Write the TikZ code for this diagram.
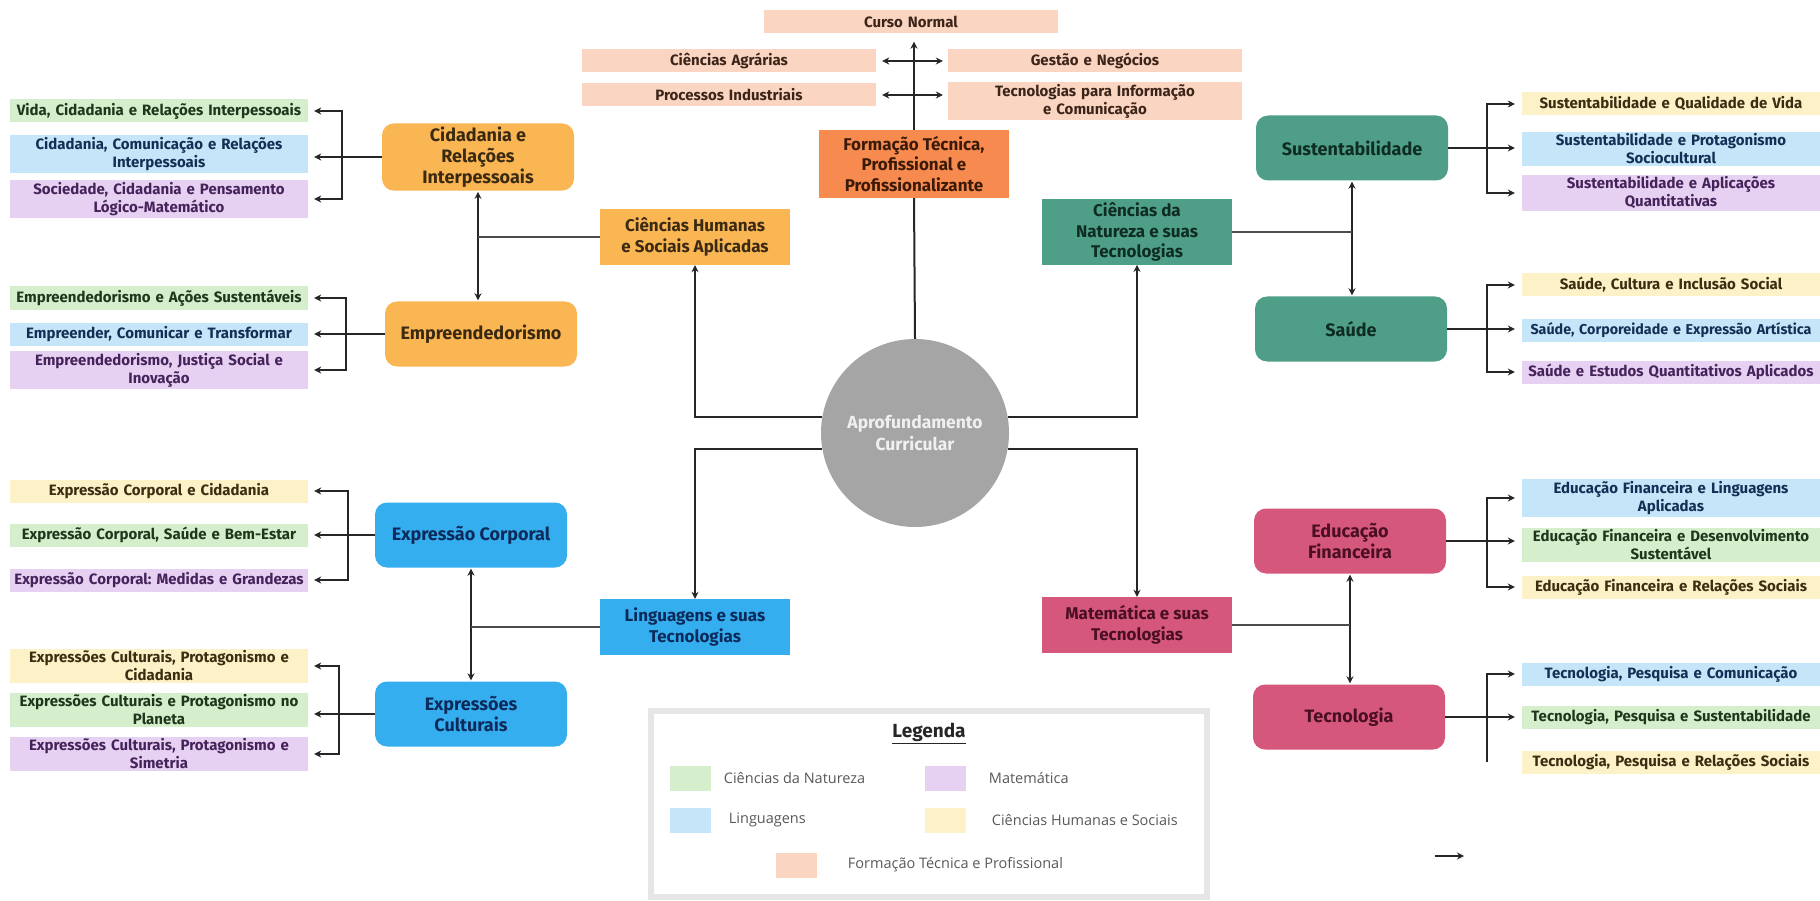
\documentclass[tikz,border=0pt]{standalone}
\usepackage{fontspec}
\setmainfont{Fira Sans}
\newfontfamily\legfont{Open Sans}
\usetikzlibrary{positioning,arrows.meta}
\frenchspacing

\definecolor{cPeach}{HTML}{FAD5C2}
\definecolor{cGreen}{HTML}{D5EECC}
\definecolor{cBlue}{HTML}{C5E5F8}
\definecolor{cPurple}{HTML}{E7D1F3}
\definecolor{cYellow}{HTML}{FDF1C8}
\definecolor{cForm}{HTML}{F78B4F}
\definecolor{cHum}{HTML}{FBB654}
\definecolor{cNat}{HTML}{4F9F88}
\definecolor{cLing}{HTML}{35AEF0}
\definecolor{cMat}{HTML}{D5587C}
\definecolor{cCirc}{HTML}{A5A5A5}
\definecolor{cLeg}{HTML}{E6E6E6}
\definecolor{tPeach}{HTML}{3B2418}
\definecolor{tGreen}{HTML}{1F361B}
\definecolor{tBlue}{HTML}{142F55}
\definecolor{tPurple}{HTML}{45235A}
\definecolor{tYellow}{HTML}{3A2E12}
\definecolor{tHum}{HTML}{3A2A12}
\definecolor{tForm}{HTML}{3C1A08}
\definecolor{tNat}{HTML}{0F2C24}
\definecolor{tLing}{HTML}{0C2B5A}
\definecolor{tMat}{HTML}{4B0F24}

\begin{document}
\begin{tikzpicture}[x=1pt,y=-1pt,
  >={Stealth[length=7pt,width=7pt]},
  leaf/.style={rectangle, inner xsep=4pt, inner ysep=2pt, text width=290pt, align=center, minimum height=23pt, font={\bfseries\fontsize{15}{18}\selectfont}},
  lfPeach/.style={leaf, fill=cPeach, text=tPeach},
  lfGreen/.style={leaf, fill=cGreen, text=tGreen},
  lfBlue/.style={leaf, fill=cBlue, text=tBlue},
  lfPurple/.style={leaf, fill=cPurple, text=tPurple},
  lfYellow/.style={leaf, fill=cYellow, text=tYellow},
  area/.style={rectangle, minimum width=190pt, minimum height=56pt, align=center, font={\bfseries\fontsize{17}{20.5}\selectfont}},
  group/.style={rectangle, rounded corners=12pt, minimum width=192pt, minimum height=65pt, align=center, font={\bfseries\fontsize{18}{21}\selectfont}},
  brk/.style={line width=2.6pt, black!85},
  lnk/.style={line width=2pt, black!85},
  thn/.style={line width=1.4pt, black!70},
  legbox/.style={rectangle, draw=cLeg, line width=6pt, minimum width=556pt, minimum height=186pt},
  swatch/.style={rectangle, inner sep=0pt, minimum width=41pt, minimum height=25pt},
  legtxt/.style={inner sep=0pt, text=black!65, font={\legfont\fontsize{14.5}{17}\selectfont}}]
\begin{scope}
\path[use as bounding box, fill=white] (0,0) rectangle (1820,901);

\node[lfPeach, text width=286pt] (curso) at (911,22) {Curso Normal};
\node[lfPeach, text width=286pt] (agr) at (729,61) {Ciências Agrárias};
\node[lfPeach, text width=286pt] (ges) at (1095,61) {Gestão e Negócios};
\node[lfPeach, text width=286pt] (proc) at (729,95) {Processos Industriais};
\node[lfPeach, text width=286pt] (tic) at (1095,101) {Tecnologias para Informação\\e Comunicação};

\node[area, fill=cForm, text=tForm, minimum height=68pt] (form) at (914,164) {Formação Técnica,\\Profissional e\\Profissionalizante};
\node[area, fill=cHum, text=tHum] (hum) at (695,237) {Ciências Humanas\\e Sociais Aplicadas};
\node[area, fill=cNat, text=tNat, minimum height=64pt] (nat) at (1137,232) {Ciências da\\Natureza e suas\\Tecnologias};
\node[area, fill=cLing, text=tLing] (ling) at (695,627) {Linguagens e suas\\Tecnologias};
\node[area, fill=cMat, text=tMat] (mat) at (1137,625) {Matemática e suas\\Tecnologias};
\node[circle, fill=cCirc, text=white!94!black, minimum size=188pt, align=center, font={\bfseries\fontsize{17.5}{21.5}\selectfont}] (circ) at (915,433) {Aprofundamento\\Curricular};

\node[group, fill=cHum, text=tHum] (cid) at (478,157) {Cidadania e\\Relações\\Interpessoais};
\node[group, fill=cHum, text=tHum] (emp) at (481,334) {Empreendedorismo};
\node[group, fill=cLing, text=tLing] (expc) at (471,535) {Expressão Corporal};
\node[group, fill=cLing, text=tLing] (expcu) at (471,714) {Expressões\\Culturais};
\node[group, fill=cNat, text=tNat] (sus) at (1352,148) {Sustentabilidade};
\node[group, fill=cNat, text=tNat] (sau) at (1351,329) {Saúde};
\node[group, fill=cMat, text=tMat] (edf) at (1350,541) {Educação\\Financeira};
\node[group, fill=cMat, text=tMat] (tec) at (1349,717) {Tecnologia};

\node[lfGreen] (vida) at (159,111) {Vida, Cidadania e Relações Interpessoais};
\node[lfBlue] (ccri) at (159,154) {Cidadania, Comunicação e Relações\\Interpessoais};
\node[lfPurple] (soc) at (159,199) {Sociedade, Cidadania e Pensamento\\Lógico-Matemático};
\node[lfGreen] (eas) at (159,298) {Empreendedorismo e Ações Sustentáveis};
\node[lfBlue] (ect) at (159,334) {Empreender, Comunicar e Transformar};
\node[lfPurple] (ejs) at (159,370) {Empreendedorismo, Justiça Social e\\Inovação};
\node[lfYellow] (ecc) at (159,491) {Expressão Corporal e Cidadania};
\node[lfGreen] (ecs) at (159,535) {Expressão Corporal, Saúde e Bem-Estar};
\node[lfPurple] (ecm) at (159,580) {Expressão Corporal: Medidas e Grandezas};
\node[lfYellow] (epc) at (159,666) {Expressões Culturais, Protagonismo e\\Cidadania};
\node[lfGreen] (epp) at (159,710) {Expressões Culturais e Protagonismo no\\Planeta};
\node[lfPurple] (eps) at (159,754) {Expressões Culturais, Protagonismo e\\Simetria};

\node[lfYellow] (sqv) at (1671,104) {Sustentabilidade e Qualidade de Vida};
\node[lfBlue] (sps) at (1671,149) {Sustentabilidade e Protagonismo\\Sociocultural};
\node[lfPurple] (saq) at (1671,193) {Sustentabilidade e Aplicações\\Quantitativas};
\node[lfYellow] (sci) at (1671,285) {Saúde, Cultura e Inclusão Social};
\node[lfBlue, font={\bfseries\fontsize{14.3}{18}\selectfont}] (sce) at (1671,330) {Saúde, Corporeidade e Expressão Artística};
\node[lfPurple] (seq) at (1671,372) {Saúde e Estudos Quantitativos Aplicados};
\node[lfBlue] (efl) at (1671,498) {Educação Financeira e Linguagens\\Aplicadas};
\node[lfGreen] (efd) at (1671,545) {Educação Financeira e Desenvolvimento\\Sustentável};
\node[lfYellow] (efr) at (1671,587) {Educação Financeira e Relações Sociais};
\node[lfBlue] (tpc) at (1671,674) {Tecnologia, Pesquisa e Comunicação};
\node[lfGreen] (tps) at (1671,717) {Tecnologia, Pesquisa e Sustentabilidade};
\node[lfYellow] (tpr) at (1671,762) {Tecnologia, Pesquisa e Relações Sociais};

\path[draw,brk,->,shorten >=8pt] (form.north) -- (form.north |- curso.south);
\path[draw,brk,<->,shorten <=6pt,shorten >=5pt] (agr.east) -- (agr.east -| ges.west);
\path[draw,brk,<->,shorten <=6pt,shorten >=5pt] (proc.east) -- (proc.east -| tic.west);

\path[draw,lnk] (form.south) -- (circ.north);
\path[draw,lnk,->] (circ.170) -| (hum.south);
\path[draw,lnk,->] (circ.10) -| (nat.south);
\path[draw,lnk,->] (circ.190) -| (ling.north);
\path[draw,lnk,->] (circ.350) -| (mat.north);

\path[draw,brk,<->,shorten <=1pt,shorten >=1pt] (cid.south) -- (cid.south |- emp.north);
\path[draw,thn] (hum.west) -- (hum.west -| cid.south);
\path[draw,brk,<->,shorten <=1pt,shorten >=1pt] (sus.south) -- (sus.south |- sau.north);
\path[draw,thn] (nat.east) -- (nat.east -| sus.south);
\path[draw,brk,<->,shorten <=1pt,shorten >=1pt] (expc.south) -- (expc.south |- expcu.north);
\path[draw,thn] (ling.west) -- (ling.west -| expc.south);
\path[draw,brk,<->,shorten <=1pt,shorten >=1pt] (edf.south) -- (edf.south |- tec.north);
\path[draw,thn] (mat.east) -- (mat.east -| edf.south);

\coordinate (cidB) at (342,157);
\coordinate (empB) at (346,334);
\coordinate (expcB) at (348,535);
\coordinate (expcuB) at (339,714);
\coordinate (susB) at (1487,148);
\coordinate (sauB) at (1487,329);
\coordinate (edfB) at (1487,541);
\coordinate (tecB) at (1487,717);

\path[draw,brk,<->,shorten <=6pt,shorten >=6pt] (vida.east) -- (cidB |- vida.east) -- (cidB |- soc.east) -- (soc.east);
\path[draw,brk,->,shorten >=6pt] (cid.west) -- (cid.west -| ccri.east);
\path[draw,brk,<->,shorten <=6pt,shorten >=6pt] (eas.east) -- (empB |- eas.east) -- (empB |- ejs.east) -- (ejs.east);
\path[draw,brk,->,shorten >=6pt] (emp.west) -- (emp.west -| ect.east);
\path[draw,brk,<->,shorten <=6pt,shorten >=6pt] (ecc.east) -- (expcB |- ecc.east) -- (expcB |- ecm.east) -- (ecm.east);
\path[draw,brk,->,shorten >=6pt] (expc.west) -- (expc.west -| ecs.east);
\path[draw,brk,<->,shorten <=6pt,shorten >=6pt] (epc.east) -- (expcuB |- epc.east) -- (expcuB |- eps.east) -- (eps.east);
\path[draw,brk,->,shorten >=6pt] (expcu.west) -- (expcu.west -| epp.east);

\path[draw,brk,<->,shorten <=7pt,shorten >=7pt] (sqv.west) -- (susB |- sqv.west) -- (susB |- saq.west) -- (saq.west);
\path[draw,brk,->,shorten >=7pt] (sus.east) -- (sus.east -| sps.west);
\path[draw,brk,<->,shorten <=7pt,shorten >=7pt] (sci.west) -- (sauB |- sci.west) -- (sauB |- seq.west) -- (seq.west);
\path[draw,brk,->,shorten >=7pt] (sau.east) -- (sau.east -| sce.west);
\path[draw,brk,<->,shorten <=7pt,shorten >=7pt] (efl.west) -- (edfB |- efl.west) -- (edfB |- efr.west) -- (efr.west);
\path[draw,brk,->,shorten >=7pt] (edf.east) -- (edf.east -| efd.west);
\path[draw,brk,->,shorten >=7pt] (tecB |- tpr.west) -- (tecB |- tpc.west) -- (tpc.west);
\path[draw,brk,->,shorten >=7pt] (tec.east) -- (tec.east -| tps.west);

\node[legbox] (leg) at (929,804) {};
\node[text=black!85, font={\bfseries\fontsize{19}{22}\selectfont}] (legT) at (929,733) {\underline{Legenda}};
\node[swatch, fill=cGreen] (swN) at (690,778) {};
\node[legtxt, right=13pt of swN] (txN) {Ciências da Natureza};
\node[swatch, fill=cPurple] (swM) at (945,778) {};
\node[legtxt, right=23pt of swM] (txM) {Matemática};
\node[swatch, fill=cBlue] (swL) at (690,820) {};
\node[legtxt, right=18pt of swL] (txL) {Linguagens};
\node[swatch, fill=cYellow] (swH) at (945,820) {};
\node[legtxt, right=26pt of swH] (txH) {Ciências Humanas e Sociais};
\node[swatch, fill=cPeach] (swF) at (796,865) {};
\node[legtxt, right=31pt of swF] (txF) {Formação Técnica e Profissional};

\coordinate (strayA) at (1435,856);
\coordinate (strayB) at (1464,856);
\path[draw,brk,->] (strayA) -- (strayB);
\end{scope}
\end{tikzpicture}
\end{document}
